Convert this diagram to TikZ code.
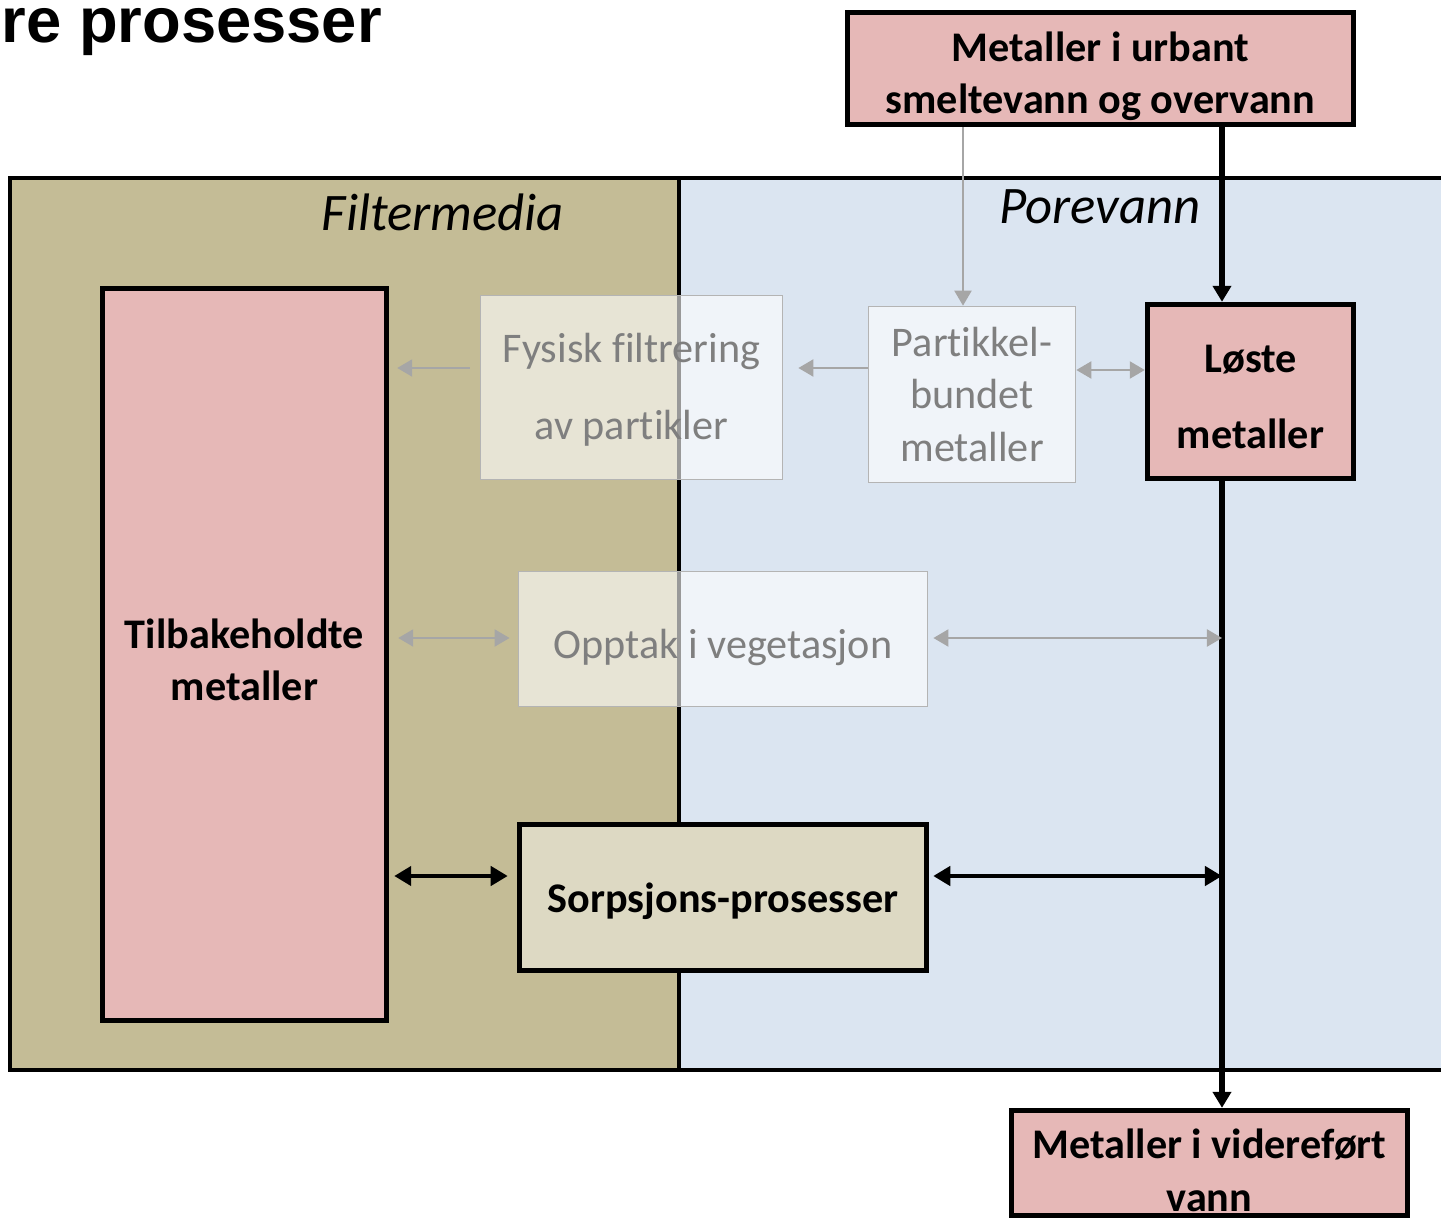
\documentclass[tikz,border=0pt]{standalone}
\usepackage{fontspec}
\setmainfont{Carlito}[Ligatures=NoCommon]
\newfontfamily\titlefont{Liberation Sans}
\usetikzlibrary{arrows.meta}
\definecolor{filterc}{HTML}{C4BC96}
\definecolor{porec}{HTML}{DBE5F1}
\definecolor{metalc}{HTML}{E6B8B7}
\definecolor{sorpc}{HTML}{DDD9C3}
\definecolor{faintline}{HTML}{A6A6A6}
\definecolor{fainttext}{HTML}{7F7F7F}
\definecolor{faintedge}{HTML}{B4B4B4}
\newcommand\lift[1]{\rule{0pt}{#1}}
\begin{document}
\begin{tikzpicture}[x=0.01cm, y=-0.01cm,
	txt/.style={font=\fontsize{12}{14.8}\selectfont, align=center, inner sep=0},
	mainbox/.style={txt, draw=black, line width=1.5pt, font=\bfseries\fontsize{12}{14.8}\selectfont},
	faintbox/.style={txt, draw=faintedge, line width=0.45pt, fill=white, fill opacity=0.6, text opacity=1, text=fainttext},
	flow/.style={line width=1.5pt, -{Triangle[length=0.16cm, width=0.18cm]}},
	flowtwo/.style={line width=1.4pt, {Triangle[length=0.17cm, width=0.19cm]}-{Triangle[length=0.17cm, width=0.19cm]}},
	faint/.style={faintline, line width=0.6pt, -{Triangle[length=0.15cm, width=0.17cm]}},
	fainttwo/.style={faintline, line width=0.6pt, {Triangle[length=0.15cm, width=0.17cm]}-{Triangle[length=0.15cm, width=0.17cm]}}]
	\useasboundingbox (0, 0) rectangle (1441, 1221);
	%tittel
	\node[anchor=base west, inner sep=0, font=\titlefont\bfseries\fontsize{18}{22}\selectfont] (title) at (1, 42) {re prosesser};
	%soner
	\draw[fill=filterc, line width=1pt] (10, 178) rectangle (679, 1070);
	\draw[fill=porec, line width=1pt] (679, 178) rectangle (1460, 1070);
	\node[font=\itshape\fontsize{15}{18}\selectfont] (filtermedia) at (443, 212) {Filtermedia};
	\node[font=\itshape\fontsize{15}{18}\selectfont] (porevann) at (1100, 207) {Porevann};
	%hjelpelinjer
	\path (1222, 0) coordinate (mainx);
	\path (963, 0) coordinate (partx);
	\path (0, 368) coordinate (rowA);
	\path (0, 370) coordinate (rowAb);
	\path (0, 638) coordinate (rowB);
	\path (0, 876) coordinate (rowC);
	%bokser
	\node[mainbox, fill=metalc, minimum width=5.06cm, minimum height=1.12cm] (urbant) at (1100.5, 68.5) {\lift{12.6pt}Metaller i urbant\\smeltevann og overvann};
	\node[mainbox, fill=metalc, minimum width=2.06cm, minimum height=1.74cm, font=\bfseries\fontsize{12}{21.6}\selectfont] (loste) at (1250.5, 391.5) {\lift{10.9pt}Løste\\metaller};
	\node[mainbox, fill=metalc, minimum width=2.84cm, minimum height=7.32cm] (tilbake) at (244.5, 654.5) {\lift{11.4pt}Tilbakeholdte\\metaller};
	\node[mainbox, fill=sorpc, minimum width=4.07cm, minimum height=1.46cm] (sorp) at (723, 897.5) {\lift{10.3pt}Sorpsjons-prosesser};
	\node[mainbox, fill=metalc, minimum width=3.96cm, minimum height=1.05cm] (videre) at (1209.5, 1163) {\lift{12.6pt}Metaller i videreført\\vann};
	\node[faintbox, minimum width=3.02cm, minimum height=1.84cm, font=\fontsize{12}{21.8}\selectfont] (fysisk) at (631.5, 387.5) {\lift{9.7pt}Fysisk filtrering\\av partikler};
	\node[faintbox, minimum width=2.07cm, minimum height=1.76cm] (partikkel) at (972, 394.5) {Partikkel-\\bundet\\metaller};
	\node[faintbox, minimum width=4.09cm, minimum height=1.35cm] (opptak) at (723, 639) {\lift{13.2pt}Opptak i vegetasjon};
	%hovedstrøm
	\draw[flow] (urbant.south -| mainx) -- (loste.north -| mainx);
	\draw[flow] (loste.south -| mainx) -- (videre.north -| mainx);
	\path (mainx |- rowB) coordinate (lineB);
	\path (mainx |- rowC) coordinate (lineC);
	%partikler
	\draw[faint] (urbant.south -| partx) -- (partikkel.north -| partx);
	\draw[faint, shorten >=0.15cm] (partikkel.west |- rowA) -- (fysisk.east |- rowA);
	\draw[faint, shorten <=0.1cm, shorten >=0.08cm] (fysisk.west |- rowA) -- (tilbake.east |- rowA);
	\draw[fainttwo] (partikkel.east |- rowAb) -- (loste.west |- rowAb);
	%vegetasjon
	\draw[fainttwo, shorten <=0.09cm, shorten >=0.08cm] (tilbake.east |- rowB) -- (opptak.west |- rowB);
	\draw[fainttwo, shorten <=0.05cm] (opptak.east |- rowB) -- (lineB);
	%sorpsjon
	\draw[flowtwo, shorten <=0.05cm, shorten >=0.09cm] (tilbake.east |- rowC) -- (sorp.west |- rowC);
	\draw[flowtwo, shorten <=0.04cm] (sorp.east |- rowC) -- (lineC);
\end{tikzpicture}
\end{document}
